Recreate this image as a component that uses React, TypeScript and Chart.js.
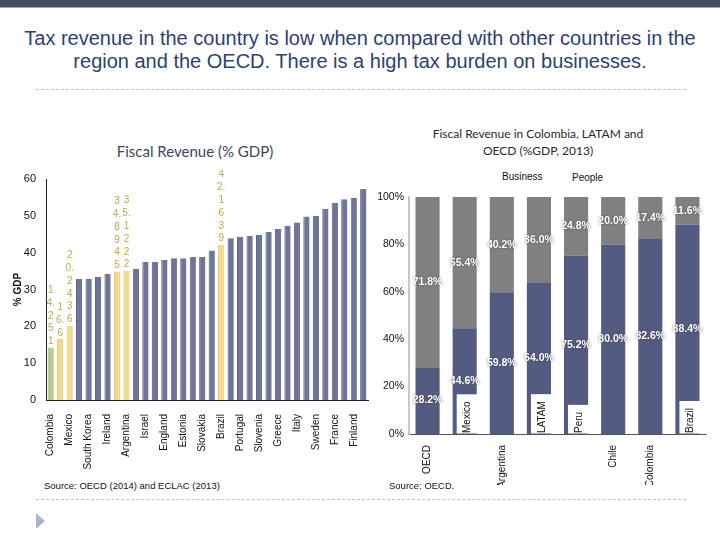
import React, { useEffect, useRef } from 'react';
import { Chart, registerables } from 'chart.js';

Chart.register(...registerables);

// ---------- Left chart data ----------
const countries = [
  'Colombia', 'Peru', 'Mexico', 'Chile', 'South Korea', 'Switzerland', 'Ireland', 'Uruguay',
  'Argentina', 'Japan', 'Israel', 'Canada', 'England', 'Spain', 'Estonia', 'Poland',
  'Slovakia', 'New Zealand', 'Brazil', 'Germany', 'Portugal', 'Luxembourg', 'Slovenia',
  'Netherlands', 'Greece', 'Hungary', 'Italy', 'Norway', 'Sweden', 'Austria', 'France',
  'Belgium', 'Finland', 'Denmark',
];
const revenue = [
  14.251, 16.6, 20.2436, 32.9, 32.9, 33.4, 34.2, 34.8945, 35.1222, 35.6, 37.5, 37.5, 38.0,
  38.5, 38.5, 38.8, 38.8, 40.6, 42.1639, 43.9, 44.3, 44.5, 44.8, 45.6, 46.4, 47.3, 48.2,
  49.8, 50.0, 51.9, 53.5, 54.5, 54.9, 57.3,
];
// C = Colombia, L = Latin America (labelled), O = OECD
const groups = [
  'C', 'L', 'L', 'O', 'O', 'O', 'O', 'L', 'L', 'O', 'O', 'O', 'O', 'O', 'O', 'O', 'O',
  'O', 'L', 'O', 'O', 'O', 'O', 'O', 'O', 'O', 'O', 'O', 'O', 'O', 'O', 'O', 'O', 'O',
];
const leftYTicks = [0, 10, 20, 30, 40, 50, 60];

// ---------- Right chart data ----------
const mixCategories = ['OECD', 'Mexico', 'Argentina', 'LATAM', 'Peru', 'Chile', 'Colombia', 'Brazil'];
const business = [28.2, 44.6, 59.8, 64.0, 75.2, 80.0, 82.6, 88.4];
const people = [71.8, 55.4, 40.2, 36.0, 24.8, 20.0, 17.4, 11.6];
const seriesNames = ['Business', 'People'];
const rightYTicks = [0, 20, 40, 60, 80, 100];
// category labels drawn inside the plot (in a white box) instead of under the axis
const labelInside = [false, true, false, true, true, false, false, true];

const groupColor: Record<string, string> = { C: '#b8cd8a', L: '#f1d98d', O: '#6e7598' };
const groupBorder: Record<string, string> = { C: '#9fb66f', L: '#e2c56e', O: '#5b6285' };

const SANS = '"Liberation Sans", Arial, sans-serif';
const HUMAN = 'Lato, "Open Sans", sans-serif';

function chunksOf(s: string): string[] {
  const out: string[] = [];
  for (const ch of s) {
    if (ch === '.' && out.length) out[out.length - 1] += ch;
    else out.push(ch);
  }
  return out;
}

const stackedLabelPlugin = {
  id: 'stackedLabels',
  afterDatasetsDraw(chart: any) {
    const meta = chart.getDatasetMeta(0);
    const ctx = chart.ctx;
    ctx.save();
    ctx.font = `10px ${SANS}`;
    ctx.fillStyle = '#c6a548';
    ctx.textAlign = 'center';
    ctx.textBaseline = 'middle';
    meta.data.forEach((el: any, i: number) => {
      if (groups[i] === 'O') return;
      const parts = chunksOf(String(revenue[i]));
      let y = el.y - 6;
      for (let k = parts.length - 1; k >= 0; k--) {
        ctx.fillText(parts[k], el.x, y);
        y -= 12.8;
      }
    });
    ctx.restore();
  },
};

const segmentLabelPlugin = {
  id: 'segmentLabels',
  afterDatasetsDraw(chart: any) {
    const ctx = chart.ctx;
    ctx.save();
    ctx.font = `bold 10.5px ${SANS}`;
    ctx.textAlign = 'center';
    ctx.textBaseline = 'middle';
    ctx.fillStyle = '#ffffff';
    ctx.shadowColor = 'rgba(60,60,60,0.8)';
    ctx.shadowBlur = 2;
    chart.data.datasets.forEach((ds: any, di: number) => {
      const meta = chart.getDatasetMeta(di);
      meta.data.forEach((el: any, i: number) => {
        const y = (el.y + el.base) / 2;
        ctx.fillText(ds.data[i].toFixed(1) + '%', el.x, y);
      });
    });
    ctx.restore();
  },
  afterDraw(chart: any) {
    const ctx = chart.ctx;
    const meta = chart.getDatasetMeta(0);
    const axisY = chart.chartArea.bottom;
    ctx.save();
    ctx.font = `10px ${SANS}`;
    meta.data.forEach((el: any, i: number) => {
      if (!labelInside[i]) return;
      const label = mixCategories[i];
      const w = ctx.measureText(label).width;
      ctx.fillStyle = '#ffffff';
      ctx.fillRect(el.x - 8, axisY - w - 8, 24, w + 7.5);
      ctx.save();
      ctx.translate(el.x + 3, axisY - 1);
      ctx.rotate(-Math.PI / 2);
      ctx.fillStyle = '#111';
      ctx.textAlign = 'left';
      ctx.textBaseline = 'middle';
      ctx.fillText(label, 0, 0);
      ctx.restore();
    });
    ctx.restore();
  },
};

function LeftChart() {
  const ref = useRef<HTMLCanvasElement>(null);
  useEffect(() => {
    const chart = new Chart(ref.current as HTMLCanvasElement, {
      type: 'bar',
      data: {
        labels: countries,
        datasets: [
          {
            data: revenue,
            backgroundColor: groups.map((g) => groupColor[g]),
            borderColor: groups.map((g) => groupBorder[g]),
            borderWidth: { left: 1, right: 0, top: 0, bottom: 0 },
            barPercentage: 0.66,
            categoryPercentage: 1,
          },
        ],
      },
      options: {
        animation: false,
        responsive: false,
        maintainAspectRatio: false,
        layout: { padding: { top: 9, right: 4, left: 0, bottom: 0 } },
        plugins: { legend: { display: false }, tooltip: { enabled: false } },
        scales: {
          x: {
            grid: { display: false, drawTicks: false },
            border: { color: '#222', width: 1 },
            ticks: {
              autoSkip: false,
              maxRotation: 90,
              minRotation: 90,
              padding: 14,
              color: '#111',
              font: { family: SANS, size: 10 },
              callback: (_v: any, i: number) => (i % 2 === 0 ? countries[i] : ''),
            },
            afterFit: (s: any) => {
              s.height = 80;
              s.paddingLeft = 0;
              s.paddingRight = 0;
            },
          },
          y: {
            min: 0,
            max: 60,
            afterBuildTicks: (s: any) => {
              s.ticks = leftYTicks.map((v) => ({ value: v }));
            },
            grid: { display: false, drawTicks: false },
            border: { color: '#222', width: 1 },
            ticks: { padding: 10, color: '#111', font: { family: SANS, size: 11 } },
            title: {
              display: true,
              text: '% GDP',
              color: '#111',
              font: { family: SANS, size: 10, weight: 'bold' },
              padding: { top: 12, bottom: 0 },
            },
            afterFit: (s: any) => {
              s.width = 46;
              s.paddingTop = 0;
              s.paddingBottom = 0;
            },
          },
        },
      },
      plugins: [stackedLabelPlugin],
    } as any);
    return () => chart.destroy();
  }, []);
  return (
    <canvas
      ref={ref}
      width={372}
      height={310}
      style={{ position: 'absolute', left: 0, top: 170, width: 372, height: 310 }}
    />
  );
}

function RightChart() {
  const ref = useRef<HTMLCanvasElement>(null);
  useEffect(() => {
    const chart = new Chart(ref.current as HTMLCanvasElement, {
      type: 'bar',
      data: {
        labels: mixCategories,
        datasets: [
          {
            label: seriesNames[0],
            data: business,
            backgroundColor: '#535b80',
            barPercentage: 0.65,
            categoryPercentage: 1,
          },
          {
            label: seriesNames[1],
            data: people,
            backgroundColor: '#808080',
            barPercentage: 0.65,
            categoryPercentage: 1,
          },
        ],
      },
      options: {
        animation: false,
        responsive: false,
        maintainAspectRatio: false,
        layout: { padding: { top: 12, right: 14, left: 0, bottom: 0 } },
        plugins: { legend: { display: false }, tooltip: { enabled: false } },
        scales: {
          x: {
            stacked: true,
            grid: { display: false, drawTicks: false },
            border: { color: '#555', width: 1 },
            ticks: {
              autoSkip: false,
              maxRotation: 90,
              minRotation: 90,
              padding: 11,
              color: '#111',
              font: { family: SANS, size: 10 },
              callback: (_v: any, i: number) => (labelInside[i] ? '' : mixCategories[i]),
            },
            afterFit: (s: any) => {
              s.height = 51;
              s.paddingLeft = 0;
              s.paddingRight = 0;
            },
          },
          y: {
            stacked: true,
            min: 0,
            max: 100,
            afterBuildTicks: (s: any) => {
              s.ticks = rightYTicks.map((v) => ({ value: v }));
            },
            grid: { display: false, drawTicks: false },
            border: { color: '#c8c8c8', width: 2 },
            ticks: {
              padding: 5,
              color: '#111',
              font: { family: SANS, size: 10.5 },
              callback: (v: any) => v + '%',
            },
            afterFit: (s: any) => {
              s.width = 39;
              s.paddingTop = 0;
              s.paddingBottom = 0;
            },
          },
        },
      },
      plugins: [segmentLabelPlugin],
    } as any);
    return () => chart.destroy();
  }, []);
  return (
    <canvas
      ref={ref}
      width={350}
      height={300}
      style={{ position: 'absolute', left: 370, top: 185, width: 350, height: 300 }}
    />
  );
}

export default function App() {
  const abs: React.CSSProperties = { position: 'absolute', margin: 0, whiteSpace: 'nowrap' };
  return (
    <div
      style={{
        position: 'absolute',
        left: 0,
        top: 0,
        width: 720,
        height: 540,
        background: '#ffffff',
        overflow: 'hidden',
      }}
    >
      <div style={{ ...abs, left: 0, top: 0, width: 720, height: 7, background: '#454c63', borderBottom: '1px solid #9aa3b5' }} />
      <div
        style={{
          ...abs,
          left: 0,
          top: 27,
          width: 720,
          textAlign: 'center',
          fontFamily: SANS,
          fontSize: 20,
          lineHeight: '23px',
          color: '#2c4272',
          whiteSpace: 'normal',
        }}
      >
        Tax revenue in the country is low when compared with other countries in the
        <br />
        region and the OECD. There is a high tax burden on businesses.
      </div>
      <div style={{ ...abs, left: 36, top: 89, width: 650, borderTop: '1px dashed #c4c4c4' }} />

      <div
        style={{
          ...abs,
          left: 0,
          top: 142,
          width: 390,
          textAlign: 'center',
          fontFamily: HUMAN,
          fontSize: 15,
          color: '#3a475c',
        }}
      >
        Fiscal Revenue (% GDP)
      </div>

      <div
        style={{
          ...abs,
          left: 418,
          top: 126,
          width: 240,
          textAlign: 'center',
          fontFamily: HUMAN,
          fontSize: 12,
          lineHeight: '16.5px',
          color: '#2a2a2a',
        }}
      >
        Fiscal Revenue in Colombia, LATAM and
        <br />
        OECD (%GDP, 2013)
      </div>
      <div style={{ ...abs, left: 502, top: 171, fontFamily: SANS, fontSize: 10, color: '#111' }}>{seriesNames[0]}</div>
      <div style={{ ...abs, left: 572, top: 172, fontFamily: SANS, fontSize: 10, color: '#111' }}>{seriesNames[1]}</div>

      <LeftChart />
      <RightChart />

      <div style={{ ...abs, left: 44, top: 480, fontFamily: SANS, fontSize: 9.5, color: '#111' }}>
        Source: OECD (2014) and ECLAC (2013)
      </div>
      <div style={{ ...abs, left: 389, top: 480, fontFamily: SANS, fontSize: 9.5, color: '#111' }}>
        Source: OECD.
      </div>
      <div style={{ ...abs, left: 36, top: 499, width: 650, borderTop: '1px dashed #c4c4c4' }} />
      <div
        style={{
          ...abs,
          left: 36,
          top: 513,
          width: 0,
          height: 0,
          borderTop: '8px solid transparent',
          borderBottom: '8px solid transparent',
          borderLeft: '9px solid #a9b6cb',
        }}
      />
    </div>
  );
}
